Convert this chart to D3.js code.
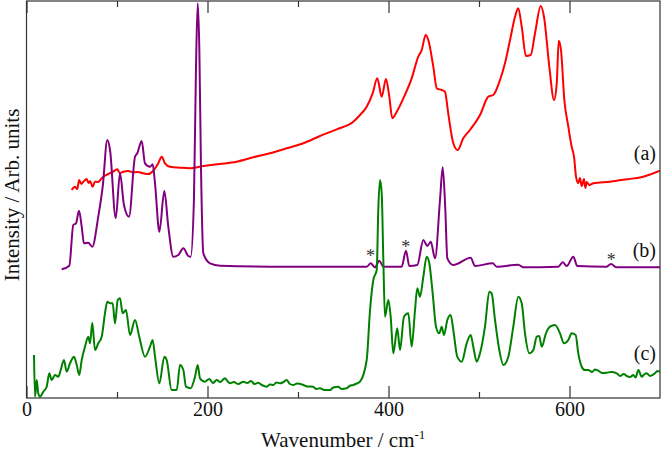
<!DOCTYPE html>
<html>
<head>
<meta charset="utf-8">
<script src="https://cdn.jsdelivr.net/npm/d3@7"></script>
<style>
  body { margin: 0; background: #fff; }
  text { font-family: "Liberation Serif", "Times New Roman", serif; fill: #111; }
</style>
</head>
<body>
<div id="chart"></div>
<script>
// Spectra: [wavenumber (cm-1), intensity (arb.)]
const spectrumA = [[49.9,208],[53.6,211.3],[56,209],[58.3,218],[60.5,214],[62.8,216.3],[66.5,219],[68.5,215],[70.2,217],[73.1,211.3],[75.7,216.3],[79,216],[83.1,219.7],[86,222],[90.4,224],[95,226],[100.3,228.7],[103,225],[107,226.3],[112,227],[118,225.7],[123,226],[129,224.7],[134.6,224],[140.1,227.3],[145.6,234.7],[149.4,241.3],[153,234.7],[158.6,231.3],[169.6,230.3],[180.7,229.7],[195.4,232],[213.8,234],[232.3,236.3],[250.6,240.7],[269,244.7],[287.5,249.7],[305.9,254.7],[324.3,262],[342.8,268.7],[361.1,276.3],[368.5,283],[375.9,291.3],[382.5,304.7],[387.6,319.7],[392.5,301.3],[397.2,319],[400.9,301.3],[404.2,279.7],[409.1,286.3],[416.4,299.7],[425.6,319.7],[432.9,341.3],[436.7,348],[441.1,363],[444,358],[449.5,331.3],[453.3,309.7],[458.8,308],[462.4,306.3],[466,284.7],[471.6,254.7],[476.4,248],[482.6,259.7],[490,268],[501.1,283],[510.3,301.3],[515.8,303],[523.2,318],[528.7,334.7],[534.3,358],[539.8,381.3],[543.4,389.7],[547.2,371.3],[551.9,342],[557.1,343],[561.9,364.7],[568.2,392],[571.8,381.3],[577.7,331.3],[582.9,298],[585.9,314.7],[588.1,357.3],[590.6,348],[594.3,298],[598.7,271.3],[602.4,251.3],[605,241.3],[607.2,221.3],[609.7,214.7],[611.5,220],[613.5,212],[616,219],[617.5,210],[619,216],[621.9,213],[626.3,214.7],[644.8,216.3],[663.2,218.7],[681.5,221.3],[700,227.3]];

const spectrumB = [[38.9,128.7],[47.3,132.3],[51.7,173],[54.7,174.7],[58,187.3],[61,171.3],[63.5,154.7],[68.3,155.3],[72.7,151.3],[79.3,181.3],[84.2,211.3],[89.3,258],[92.3,248],[98.6,179.7],[103.3,224.7],[107.7,193],[113.3,181.3],[119.9,241.3],[122.4,244.7],[127.3,257],[130.9,234.7],[136.5,231.3],[139.4,233.7],[142,214.7],[146.8,166.3],[152.3,207],[156.7,171.3],[162.2,141.3],[167.7,143],[173.3,149.7],[178.8,142],[181.4,141.3],[185,198],[187.3,331.3],[189.2,394.7],[191,348],[192.8,231.3],[195.4,144.7],[202.8,134.7],[213.8,132.3],[269,131.3],[346,131.3],[376,131.3],[380.3,134.7],[385,130.7],[389.9,137.3],[394.3,131.3],[414.5,131.3],[419.3,147.3],[423,132],[431.8,133],[438.5,158],[442.9,152],[446.7,156.3],[451.4,139.7],[456.9,198],[459.9,230.7],[462.8,188],[465,139.7],[471.6,133],[490.8,140.3],[495.6,132],[515.1,134.7],[519.6,131.3],[543.4,133.3],[549,130.7],[587.6,131.3],[592.5,135.7],[596.9,132],[604.2,141.3],[608.6,132],[641,131.3],[645.9,134],[652,130.7],[700,130.7]];

const spectrumC = [[8.3,43],[9.4,1.3],[11.3,18],[13,4.7],[14.9,1.3],[18.6,6.3],[22.3,11.3],[25.2,24.7],[27.8,18],[31.5,23],[35.2,21.3],[37.8,28],[41.4,38],[44.4,26.3],[48.1,34.7],[52.5,41.3],[55.5,33],[58.3,23],[61,38],[64.6,51.3],[68.3,61.3],[70.2,54.7],[72.7,75.3],[75.7,48],[79.3,54.7],[83.1,61.3],[86.7,84.7],[89.3,96.3],[92.3,94.7],[95.2,94.7],[97.8,74.7],[100.8,98],[103.3,99.7],[106.3,84.7],[109.9,88],[114.4,63],[119.9,78],[124.6,61.3],[130.9,41.3],[136.5,51.3],[139.4,58],[142,41.3],[146.8,14.7],[152.3,41.3],[154.9,38],[160.4,8],[166,8],[169.6,33],[173.3,28],[176.2,11.3],[181.4,9.7],[186.2,21.3],[189.2,33],[191.7,19.7],[197.2,16.3],[202,19],[206,15],[210.2,18],[214,16],[219.3,19.7],[222,17],[224.9,14.7],[229,16],[234,14],[239.6,16.3],[244,15],[248,17],[252,14],[256.1,15.3],[260,13],[265.4,11.3],[269,13.5],[272.7,13],[276,15.5],[280.1,14.7],[284,16],[287.5,18],[291,14],[294.8,13],[299,14.5],[305.9,13],[310,11.5],[316.9,11.3],[320,9],[324.3,9.7],[329,8],[335.4,8],[339,10.5],[344.5,11.3],[348,9],[353.8,9.7],[357,12],[361.1,13],[365,14.5],[368.5,16.3],[375.9,38],[379.6,88],[383.2,118],[387,128],[388.7,188],[390.6,218],[392.5,204.7],[394.3,138],[396.1,81.3],[399.8,98],[402.4,81.3],[405.3,44.7],[409.7,69.7],[412.7,48],[417.1,81.3],[421.9,84.7],[425.6,51.3],[429.3,88],[431.8,109.7],[434.8,101.3],[438.5,121.3],[442.2,141.3],[445.1,134.7],[448.8,104.7],[452.5,71.3],[456.1,64.7],[458.8,71.3],[461.3,63],[465,78],[468.7,83],[471.6,68],[476,41.3],[480.9,36.3],[486.4,54.7],[490.8,63],[493.7,51.3],[497.5,36.3],[501.1,44.7],[506.6,71.3],[511.4,106.3],[514,104.7],[517.7,78],[522.4,48],[526.9,33],[532.4,41.3],[537.9,71.3],[543.4,101.3],[547.2,94.7],[550.8,64.7],[555.6,44.7],[560,48],[563.8,61.3],[566.6,62],[569.3,51.3],[574,64.7],[578.5,71.3],[584,73],[589.5,64.7],[593.9,54.7],[598.7,58],[602.4,64.7],[606.8,63],[609.7,44.7],[613.5,31.3],[617,28],[620.8,28],[625,26],[628,28.5],[631.8,27.3],[636,25],[641,25.3],[646,26],[652.2,24.7],[656,22],[660,24],[663.2,22],[667,21],[670.5,23],[673,20.5],[676.1,28],[679.8,21.3],[682,23],[685.3,24.7],[689,22],[694.5,24.7],[697,27],[700,26.3]];

// asterisk marks on spectrum (b): wavenumber and label height
const starWn = [380, 419, 646];
const starY = [136, 145, 132];

const majorTicks = [0, 200, 400, 600];
const minorTicks = [100, 300, 500];

const seriesLabels = ["(a)", "(b)", "(c)"];
const labelY = [238, 141, 38];

const width = 661, height = 462;
const plotLeft = 26.5, plotRight = 660, plotTop = 1, plotBottom = 398;

const svg = d3.select("#chart").append("svg")
    .attr("width", width)
    .attr("height", height);

const x = d3.scaleLinear().domain([0, 700]).range([plotLeft, plotRight]);
const y = d3.scaleLinear().domain([0, 397]).range([plotBottom, plotTop]);

svg.append("defs").append("clipPath").attr("id", "plot")
    .append("rect")
    .attr("x", plotLeft).attr("y", plotTop)
    .attr("width", plotRight - plotLeft).attr("height", plotBottom - plotTop);

const line = d3.line().x(d => x(d[0])).y(d => y(d[1])).curve(d3.curveMonotoneX);

// Draw spectra
const g = svg.append("g").attr("clip-path", "url(#plot)");
g.append("path")
    .attr("d", line(spectrumA))
    .attr("fill", "none").attr("stroke", "#ff0000").attr("stroke-width", 2);
g.append("path")
    .attr("d", line(spectrumB))
    .attr("fill", "none").attr("stroke", "#800080").attr("stroke-width", 2);
g.append("path")
    .attr("d", line(spectrumC))
    .attr("fill", "none").attr("stroke", "#008000").attr("stroke-width", 2);

// Asterisks
svg.selectAll(".star").data(starWn).enter().append("text")
    .attr("class", "star")
    .attr("x", d => x(d))
    .attr("y", (d, i) => y(starY[i]))
    .attr("text-anchor", "middle")
    .style("font-size", "18px")
    .style("fill", "#333")
    .text("*");

// Series labels
svg.selectAll(".lab").data(seriesLabels).enter().append("text")
    .attr("class", "lab")
    .attr("x", 656)
    .attr("y", (d, i) => y(labelY[i]))
    .attr("text-anchor", "end")
    .style("font-size", "20px")
    .text(d => d);

// Frame
svg.append("rect")
    .attr("x", plotLeft).attr("y", plotTop)
    .attr("width", plotRight - plotLeft).attr("height", plotBottom - plotTop)
    .attr("fill", "none").attr("stroke", "#333").attr("stroke-width", 1.2);

// Axes, ticks pointing inwards
const bottomMajor = svg.append("g").attr("transform", `translate(0,${plotBottom})`)
    .call(d3.axisBottom(x).tickValues(majorTicks).tickSize(-12).tickPadding(4));
const bottomMinor = svg.append("g").attr("transform", `translate(0,${plotBottom})`)
    .call(d3.axisBottom(x).tickValues(minorTicks).tickSize(-6).tickFormat(""));
const topMajor = svg.append("g").attr("transform", `translate(0,${plotTop})`)
    .call(d3.axisTop(x).tickValues(majorTicks).tickSize(-12).tickFormat(""));
const topMinor = svg.append("g").attr("transform", `translate(0,${plotTop})`)
    .call(d3.axisTop(x).tickValues(minorTicks).tickSize(-6).tickFormat(""));

[bottomMajor, bottomMinor, topMajor, topMinor].forEach(a => {
    a.select(".domain").remove();
    a.selectAll(".tick line").attr("stroke", "#333").attr("stroke-width", 1.2);
});
bottomMajor.selectAll(".tick text")
    .style("font-size", "20px")
    .style("font-family", "Liberation Serif, serif")
    .attr("fill", "#111");

// Axis titles
const xt = svg.append("text")
    .attr("x", (plotLeft + plotRight) / 2)
    .attr("y", 447)
    .attr("text-anchor", "middle")
    .style("font-size", "21px");
xt.append("tspan").text("Wavenumber / cm");
xt.append("tspan").attr("dy", -8).style("font-size", "13px").text("-1");

svg.append("text")
    .attr("transform", "translate(19,195) rotate(-90)")
    .attr("text-anchor", "middle")
    .style("font-size", "21px")
    .text("Intensity / Arb. units");
</script>
</body>
</html>
